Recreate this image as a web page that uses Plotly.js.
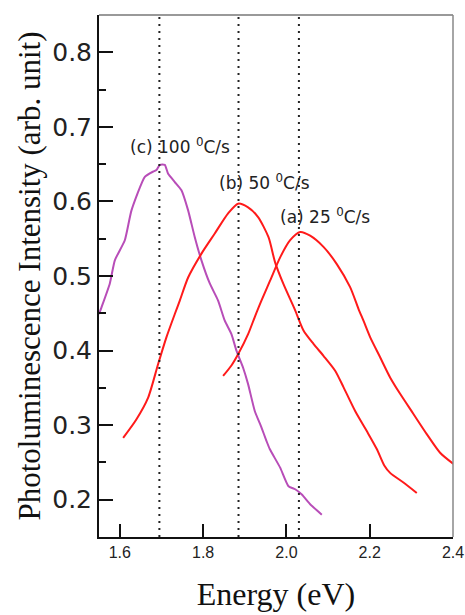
<!DOCTYPE html>
<html>
<head>
<meta charset="utf-8">
<script src="https://cdn.plot.ly/plotly-3.0.1.min.js"></script>
<style>html,body{margin:0;padding:0;background:#fff;}#chart{width:465px;height:615px;}</style>
</head>
<body>
<div id="chart"></div>
<script>
// (c) 100 °C/s
const energyC = [1.550, 1.556, 1.576, 1.588, 1.612, 1.628, 1.660, 1.680, 1.688, 1.696, 1.708, 1.716, 1.732, 1.748, 1.764, 1.780, 1.796, 1.816, 1.836, 1.852, 1.868, 1.880, 1.896, 1.908, 1.924, 1.940, 1.952, 1.960, 1.985, 2.005, 2.021, 2.037, 2.057, 2.085];
const intensityC = [0.449, 0.458, 0.490, 0.521, 0.548, 0.588, 0.633, 0.640, 0.642, 0.649, 0.649, 0.637, 0.626, 0.615, 0.588, 0.552, 0.521, 0.490, 0.467, 0.440, 0.422, 0.400, 0.377, 0.355, 0.319, 0.297, 0.279, 0.268, 0.243, 0.218, 0.214, 0.207, 0.194, 0.180];
// (b) 50 °C/s
const energyB = [1.608, 1.640, 1.668, 1.692, 1.712, 1.732, 1.744, 1.764, 1.796, 1.828, 1.860, 1.884, 1.908, 1.932, 1.957, 1.973, 1.993, 2.021, 2.041, 2.065, 2.089, 2.117, 2.137, 2.165, 2.193, 2.217, 2.235, 2.249, 2.281, 2.313];
const intensityB = [0.283, 0.308, 0.337, 0.382, 0.418, 0.449, 0.467, 0.498, 0.530, 0.557, 0.584, 0.597, 0.592, 0.579, 0.552, 0.518, 0.489, 0.454, 0.427, 0.409, 0.393, 0.373, 0.351, 0.319, 0.292, 0.268, 0.246, 0.236, 0.223, 0.209];
// (a) 25 °C/s
const energyA = [1.848, 1.868, 1.884, 1.908, 1.924, 1.940, 1.961, 1.985, 2.009, 2.033, 2.057, 2.089, 2.121, 2.153, 2.173, 2.185, 2.201, 2.225, 2.249, 2.273, 2.305, 2.337, 2.369, 2.401];
const intensityA = [0.366, 0.380, 0.395, 0.422, 0.445, 0.467, 0.494, 0.525, 0.548, 0.559, 0.554, 0.539, 0.516, 0.485, 0.456, 0.440, 0.418, 0.391, 0.364, 0.342, 0.315, 0.288, 0.263, 0.248];

const peakEnergies = [1.695, 1.885, 2.03];
const labelTexts = ['(c) 100 <sup>0</sup>C/s', '(b) 50 <sup>0</sup>C/s', '(a) 25 <sup>0</sup>C/s'];
const labelX = [1.619, 1.833, 1.980];
const labelY = [0.675, 0.626, 0.581];

const yTickVals = [0.2, 0.3, 0.4, 0.5, 0.6, 0.7, 0.8];
const yTickText = ['0.2', '0.3', '0.4', '0.5', '0.6', '0.7', '0.8'];
const yMinorVals = [0.15, 0.25, 0.35, 0.45, 0.55, 0.65, 0.75, 0.85];
const xTickVals = [1.6, 1.8, 2.0, 2.2, 2.4];
const xTickText = ['1.6', '1.8', '2.0', '2.2', '2.4'];

const RED = '#ff1a1a';
const PURPLE = '#b84db8';
const AXC = '#111';

const traces = [
  {x: energyC, y: intensityC, mode: 'lines', line: {color: PURPLE, width: 2, shape: 'spline', smoothing: 0.5}, showlegend: false, hoverinfo: 'skip'},
  {x: energyB, y: intensityB, mode: 'lines', line: {color: RED, width: 2, shape: 'spline', smoothing: 0.7}, showlegend: false, hoverinfo: 'skip'},
  {x: energyA, y: intensityA, mode: 'lines', line: {color: RED, width: 2, shape: 'spline', smoothing: 0.7}, showlegend: false, hoverinfo: 'skip'}
];

const shapes = peakEnergies.map(e => ({
  type: 'line', xref: 'x', yref: 'paper', x0: e, x1: e, y0: 0, y1: 1,
  line: {color: '#222', width: 2, dash: '2px,5px'}
})).concat([
  {type: 'line', xref: 'paper', yref: 'paper', x0: 0, x1: 1, y0: 1, y1: 1, line: {color: '#777', width: 1.5}},
  {type: 'line', xref: 'paper', yref: 'paper', x0: 1, x1: 1, y0: 0, y1: 1, line: {color: '#888', width: 1.5}}
]);

const annotations = labelTexts.map((t, i) => ({
  x: labelX[i], y: labelY[i], xref: 'x', yref: 'y', text: t, showarrow: false,
  xanchor: 'left', yanchor: 'middle',
  font: {family: 'DejaVu Sans, sans-serif', size: 17, color: '#222'}
}));

const layout = {
  width: 465, height: 615,
  margin: {l: 99, r: 12, t: 15, b: 78},
  paper_bgcolor: '#fff', plot_bgcolor: '#fff',
  showlegend: false,
  xaxis: {
    range: [1.55, 2.4], tickmode: 'array', tickvals: xTickVals, ticktext: xTickText,
    ticks: 'inside', ticklen: 13, tickwidth: 2, tickcolor: AXC,
    showline: true, linecolor: AXC, linewidth: 2, showgrid: false, zeroline: false,
    tickfont: {family: 'Liberation Sans, Arial, sans-serif', size: 16, color: '#222'},
    title: {text: 'Energy (eV)', font: {family: 'Liberation Serif, Times New Roman, serif', size: 32, color: '#111'}, standoff: 22}
  },
  yaxis: {
    range: [0.15, 0.85], tickmode: 'array', tickvals: yTickVals, ticktext: yTickText,
    ticks: 'inside', ticklen: 14, tickwidth: 2, tickcolor: AXC,
    minor: {tickmode: 'array', tickvals: yMinorVals, ticks: 'inside', ticklen: 7, tickwidth: 2, tickcolor: AXC, showgrid: false},
    showline: true, linecolor: AXC, linewidth: 2, showgrid: false, zeroline: false,
    tickfont: {family: 'DejaVu Sans, sans-serif', size: 25, color: '#222'},
    title: {text: 'Photoluminescence Intensity (arb. unit)', font: {family: 'Liberation Serif, Times New Roman, serif', size: 31, color: '#111'}, standoff: 2}
  },
  shapes: shapes,
  annotations: annotations
};

Plotly.newPlot('chart', traces, layout, {displayModeBar: false});
</script>
</body>
</html>
